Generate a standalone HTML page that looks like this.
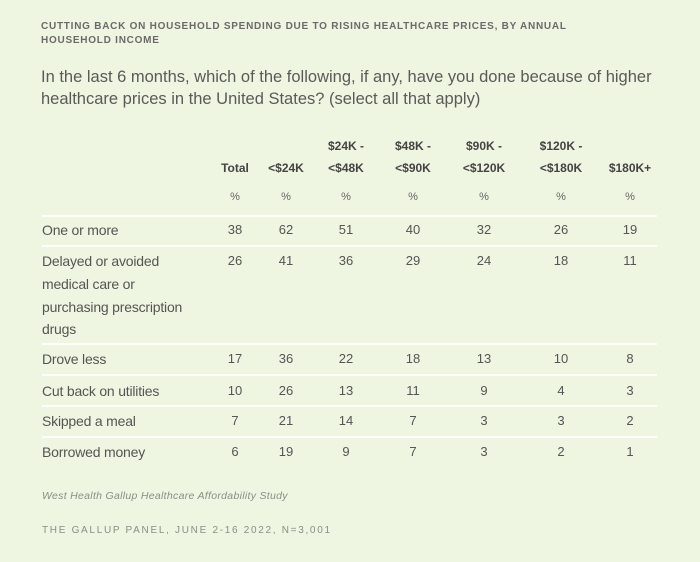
<!DOCTYPE html>
<html><head><meta charset="utf-8"><style>
body{margin:0;width:700px;height:562px;background:#eef5e0;font-family:"Liberation Sans",sans-serif;position:relative;overflow:hidden}
div{position:absolute;white-space:nowrap}
.t{left:41px;font-size:10px;font-weight:bold;color:#6a6a6a;letter-spacing:0.75px}
.q{left:41px;font-size:16.5px;color:#5a5a5a;letter-spacing:0px}
.h{font-size:12px;font-weight:bold;color:#444;transform:translateX(-50%)}
.p{font-size:11px;color:#666;transform:translateX(-50%)}
.l{left:42px;font-size:14px;color:#555;letter-spacing:-0.2px}
.n{font-size:13px;color:#555;transform:translateX(-50%)}
.r{left:42px;width:615px;height:2px;background:#fff}
</style></head><body>
<div class="t" style="top:21px">CUTTING BACK ON HOUSEHOLD SPENDING DUE TO RISING HEALTHCARE PRICES, BY ANNUAL</div>
<div class="t" style="top:35px">HOUSEHOLD INCOME</div>
<div class="q" style="top:68px">In the last 6 months, which of the following, if any, have you done because of higher</div>
<div class="q" style="top:90px">healthcare prices in the United States? (select all that apply)</div>
<div class="h" style="left:346px;top:139px">$24K -</div>
<div class="h" style="left:413px;top:139px">$48K -</div>
<div class="h" style="left:484px;top:139px">$90K -</div>
<div class="h" style="left:561px;top:139px">$120K -</div>
<div class="h" style="left:235px;top:161px">Total</div>
<div class="h" style="left:286px;top:161px">&lt;$24K</div>
<div class="h" style="left:346px;top:161px">&lt;$48K</div>
<div class="h" style="left:413px;top:161px">&lt;$90K</div>
<div class="h" style="left:484px;top:161px">&lt;$120K</div>
<div class="h" style="left:561px;top:161px">&lt;$180K</div>
<div class="h" style="left:630px;top:161px">$180K+</div>
<div id="pc"></div>
<div class="r" style="top:215px"></div>
<div class="r" style="top:245px"></div>
<div class="r" style="top:343px"></div>
<div class="r" style="top:374px"></div>
<div class="r" style="top:405px"></div>
<div class="r" style="top:436px"></div>
<div class="l" style="top:222px">One or more</div>
<div class="l" style="top:253px">Delayed or avoided</div>
<div class="l" style="top:276px">medical care or</div>
<div class="l" style="top:299px">purchasing prescription</div>
<div class="l" style="top:321px">drugs</div>
<div class="l" style="top:351px">Drove less</div>
<div class="l" style="top:383px">Cut back on utilities</div>
<div class="l" style="top:413px">Skipped a meal</div>
<div class="l" style="top:444px">Borrowed money</div>
<div style="left:42px;top:490px;font-size:10.5px;font-style:italic;color:#8a8f86;letter-spacing:0.3px">West Health Gallup Healthcare Affordability Study</div>
<div style="left:42px;top:525px;font-size:10px;color:#8a8f86;letter-spacing:1.7px">THE GALLUP PANEL, JUNE 2-16 2022, N=3,001</div>
<script>
var xs=[235,286,346,413,484,561,630];
var rows=[[191,["%","%","%","%","%","%","%"],"p"],[222,[38,62,51,40,32,26,19]],[253,[26,41,36,29,24,18,11]],[351,[17,36,22,18,13,10,8]],[383,[10,26,13,11,9,4,3]],[413,[7,21,14,7,3,3,2]],[444,[6,19,9,7,3,2,1]]];
var h="";rows.forEach(function(r){r[1].forEach(function(v,i){h+='<div class="'+(r[2]||"n")+'" style="left:'+xs[i]+'px;top:'+r[0]+'px">'+v+'</div>';});});
document.getElementById("pc").outerHTML=h;
</script>
</body></html>
